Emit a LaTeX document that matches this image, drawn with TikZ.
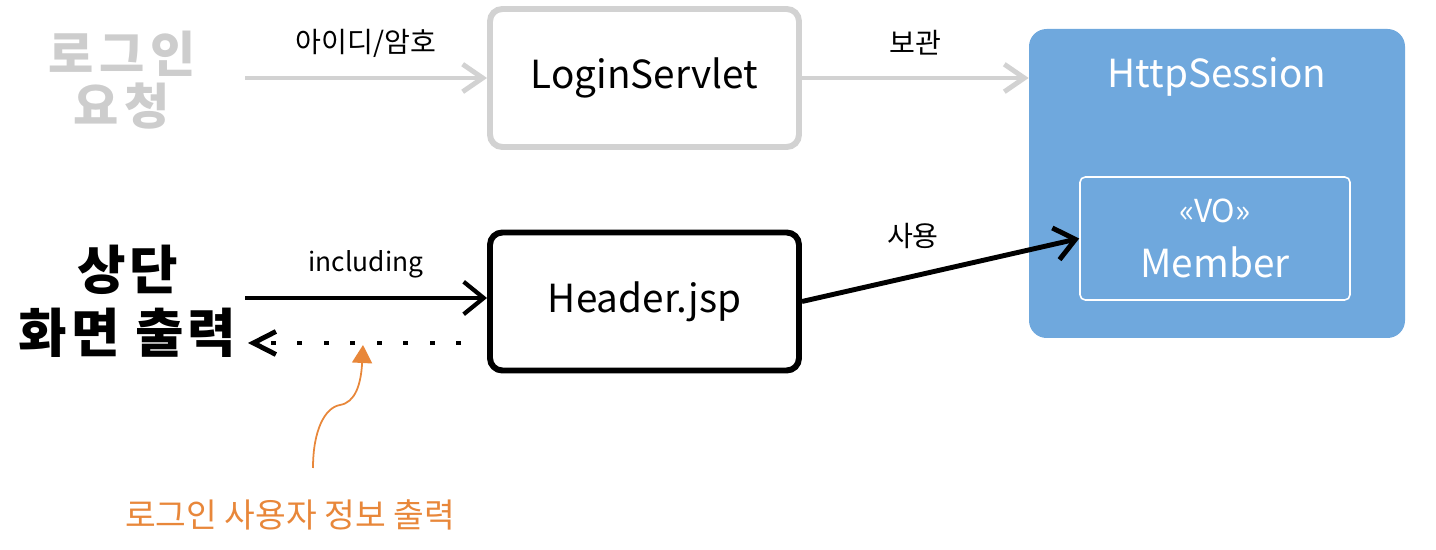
\documentclass[tikz,border=0pt]{standalone}
\usepackage{fontspec}
\setmainfont{Noto Sans CJK KR}
\usetikzlibrary{arrows.meta,positioning}
\definecolor{FadeGray}{HTML}{D2D2D2}
\definecolor{FadeText}{HTML}{CDCDCD}
\definecolor{SessionBlue}{HTML}{6FA8DD}
\definecolor{NoteOrange}{HTML}{E8873A}

\begin{document}
\begin{tikzpicture}[
	box/.style={draw, rounded corners=7pt, line width=3.4pt, minimum width=6.18cm, minimum height=2.76cm, font=\fontsize{22}{26}\selectfont},
	edgetext/.style={font=\fontsize{16}{19}\selectfont, inner sep=0pt},
	bigtext/.style={align=center, font=\bfseries\fontsize{28}{30}\selectfont},
	arrow/.style={-{Straight Barb[length=4mm, width=6.5mm]}, line width=2.4pt},
	fade/.style={draw=FadeGray, text=black}
]
\useasboundingbox (0,0) rectangle (28.72,11);

% login request (faded)
\node[bigtext, text=FadeText, font=\bfseries\fontsize{28}{30}\selectfont\addfontfeature{LetterSpace=12}] (req) at (2.44,9.4) {로그인\\요청};
\node[box, fade] (login) at (12.89,9.44) {LoginServlet};
\coordinate (reqOut) at (4.9,9.44);

% session with the member
\node[fill=SessionBlue, rounded corners=10pt, minimum width=7.52cm, minimum height=6.18cm, inner sep=0pt] (session) at (24.34,7.33) {};
\node[below=0.58cm of session.north, inner sep=0pt, text=white, font=\fontsize{22}{26}\selectfont] (sessionTitle) {HttpSession};
\node[draw=white, line width=0.9pt, rounded corners=3pt, minimum width=5.4cm, minimum height=2.46cm, align=center, text=white, font=\fontsize{22}{26}\selectfont] (member) at (24.30,6.23) {{\fontsize{18}{20}\selectfont «VO»}\\[5pt]Member};

% header include
\node[bigtext, font=\bfseries\fontsize{30}{36}\selectfont\addfontfeature{LetterSpace=7}] (top) at (2.55,4.97) {상단\\화면\hspace{0.3em}출력};
\node[box] (header) at (12.89,4.97) {Header.jsp};
\coordinate (incOut) at (4.9,5.04);
\coordinate (retOut) at (4.96,4.14);

% note
\node[text=NoteOrange, font=\fontsize{19}{22}\selectfont, inner sep=0pt] (note) at (5.8,0.7) {로그인 사용자 정보 출력};
\coordinate (noteFoot) at (6.26,1.64);
\coordinate (noteTip) at (7.26,4.1);

\draw[arrow, FadeGray, line width=2.8pt, -{Straight Barb[length=4mm, width=5.5mm]}] (reqOut) -- node[midway, above=3.6mm, edgetext, text=black] {아이디/암호} (login.west |- reqOut);
\draw[arrow, FadeGray, line width=2.8pt, -{Straight Barb[length=4mm, width=5.5mm]}] (login.east) -- node[midway, above=4mm, edgetext, text=black] {보관} (login -| session.west);
\draw[arrow] (incOut) -- node[midway, above=3.6mm, edgetext, font=\fontsize{15}{18}\selectfont] {including} (incOut -| header.west);
\draw[line width=2.8pt, dash pattern=on 0.1cm off 0.43cm, -{Straight Barb[length=4.5mm, width=4.6mm]}] ([xshift=-0.52cm]retOut -| header.west) -- (retOut);
\draw[arrow, line width=2.8pt] (header.east) -- node[pos=0.4, above=5mm, edgetext] {사용} (member.west);
\draw[NoteOrange, line width=1pt, -{Triangle[length=3.6mm, width=4mm]}] (noteFoot) .. controls (6.26,2.4) and (6.5,2.85) .. (6.8,2.9) .. controls (7.1,2.95) and (7.22,3.3) .. (noteTip);
\end{tikzpicture}
\end{document}
